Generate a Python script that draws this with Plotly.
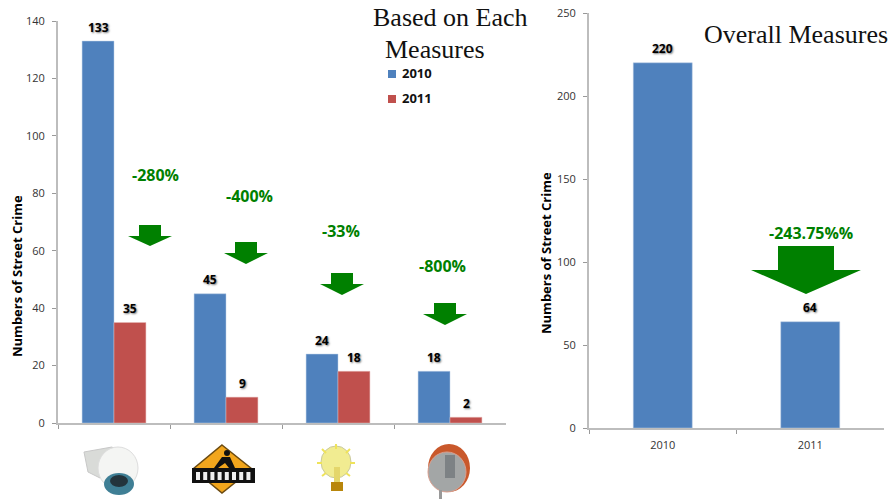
import plotly.graph_objects as go

W, H = 895, 502
BLUE, RED, GREEN = "#4F81BD", "#C0504D", "#008000"
measures = ["CCTV", "Pedestrian crossing", "Street lighting", "Convex mirror"]
values_2010 = [133, 45, 24, 18]
values_2011 = [35, 9, 18, 2]
overall_years = ["2010", "2011"]
overall_values = [220, 64]
left_ticks = [0, 20, 40, 60, 80, 100, 120, 140]
right_ticks = [0, 50, 100, 150, 200, 250]

def X(p): return p / W
def Y(p): return 1 - p / H

def path(points, close=True):
    s = "M " + " L ".join(f"{X(a):.5f},{Y(b):.5f}" for a, b in points)
    return s + (" Z" if close else "")

shapes, annos = [], []
def poly(points, fill, line=None, lw=0):
    shapes.append(dict(type="path", xref="paper", yref="paper", path=path(points), fillcolor=fill,
                       line=dict(color=line or fill, width=lw)))
def ell(cx, cy, rx, ry, fill, line=None, lw=0):
    shapes.append(dict(type="circle", xref="paper", yref="paper", x0=X(cx-rx), x1=X(cx+rx), y0=Y(cy+ry), y1=Y(cy-ry),
                       fillcolor=fill, line=dict(color=line or fill, width=lw)))
def rect(x0, y0, x1, y1, fill):
    poly([(x0, y0), (x1, y0), (x1, y1), (x0, y1)], fill)
def seg(x0, y0, x1, y1, color, w=2):
    shapes.append(dict(type="line", xref="paper", yref="paper", x0=X(x0), x1=X(x1), y0=Y(y0), y1=Y(y1),
                       line=dict(color=color, width=w)))
def arrow(cx, top, sh, hh, shaft, head):
    poly([(cx-shaft, top), (cx+shaft, top), (cx+shaft, top+sh), (cx+head, top+sh), (cx, top+sh+hh),
          (cx-head, top+sh), (cx-shaft, top+sh)], GREEN)
def text(x, y, t, size, color, family, bold=False, anchor="center", angle=0):
    font = dict(size=size, color=color, family=family, weight="bold" if bold else "normal")
    annos.append(dict(xref="paper", yref="paper", x=X(x), y=Y(y), text=t, showarrow=False, font=font,
                      xanchor=anchor, yanchor="middle", align="left", textangle=angle))

SANS = "Open Sans, Noto Sans, sans-serif"
SERIF = "Liberation Serif, serif"
for a in [(150, 225, 11, 10, 11, 22), (246, 242, 11, 11, 11, 22), (342, 273, 11, 11, 11, 22), (445, 303, 11, 11, 11, 22), (806, 246, 24, 24, 28, 55)]:
    arrow(*a)
for x, y, t in [(155, 175, "-280%"), (250, 196, "-400%"), (341, 231, "-33%"), (442, 266, "-800%"), (811, 233, "-243.75%%")]:
    text(x, y, t, 16, GREEN, SANS, True)
text(450, 18, "Based on Each", 26, "#111", SERIF)
text(383, 49, "Measures", 26, "#111", SERIF, anchor="left")
text(796, 35, "Overall Measures", 26, "#111", SERIF)

# Manual legend, sized as in the picture
rect(388, 70, 396, 78, BLUE)
rect(388, 95, 396, 103, RED)
text(400, 73, "2010", 13, "#111", SANS, True, anchor="left")
text(400, 98, "2011", 13, "#111", SANS, True, anchor="left")

# Axis titles
text(17, 276, "Numbers of Street Crime", 13, "#000", SANS, True, angle=-90)
text(546, 253, "Numbers of Street Crime", 13, "#000", SANS, True, angle=-90)

# Camera icon
poly([(84, 452), (112, 447), (122, 455), (102, 470), (100, 478), (88, 472)], "#D9DBD8", "#C8C8C8", 1)
ell(118, 468, 20, 21, "#F4F5F3", "#DDDDDD", 1)
ell(119, 484, 15, 11, "#3F7F95")
ell(119, 481, 9, 6, "#23343C")
# Pedestrian sign icon
poly([(222, 445), (252, 469), (222, 493), (193, 469)], "#F2A61D", "#6B4A10", 1.5)
rect(192, 468, 255, 483, "#111111")
for i in range(8):
    rect(196 + i * 7.2, 472, 200 + i * 7.2, 480, "#EFEFEF")
ell(227, 453, 3, 3, "#111111")
poly([(222, 457), (230, 457), (235, 468), (229, 468), (225, 463), (218, 468), (214, 468)], "#111111")
# Bulb icon
ell(336, 462, 15, 16, "#F1EC91", "#C9C9A0", 1)
rect(331, 482, 343, 491, "#B8860B")
rect(334, 467, 340, 482, "#E4D66B")
for a in [(336, 444, 336, 449), (322, 449, 326, 453), (350, 449, 346, 453), (317, 463, 322, 463), (355, 463, 350, 463), (322, 476, 326, 473), (350, 476, 346, 473)]:
    seg(*a, "#EFE35A", 2)
# Mirror icon
ell(449, 468, 21, 24, "#C9582B")
ell(447, 472, 19, 20, "#A3A6A6", "#D8A090", 1)
rect(445, 455, 455, 478, "#7D8285")
rect(439, 490, 442, 499, "#999999")

label_font = dict(size=12, color="#000", family=SANS, weight="bold", shadow="1px 1px 2px #777")
LABEL_GAP = 14
for i, v in enumerate(values_2010):
    annos.append(dict(xref="x", yref="y", x=i, y=v, text=str(v), showarrow=False, font=label_font, xshift=-16, yshift=LABEL_GAP, yanchor="middle"))
for i, v in enumerate(values_2011):
    annos.append(dict(xref="x", yref="y", x=i, y=v, text=str(v), showarrow=False, font=label_font, xshift=16, yshift=LABEL_GAP, yanchor="middle"))
for i, v in enumerate(overall_values):
    annos.append(dict(xref="x2", yref="y2", x=i, y=v, text=str(v), showarrow=False, font=label_font, yshift=LABEL_GAP, yanchor="middle"))

axis_line = dict(showline=True, linecolor="#BDBDBD", linewidth=2, ticks="outside", ticklen=4, automargin=False,
                 tickcolor="#999999", showgrid=False, zeroline=False, tickfont=dict(size=11, color="#333", family=SANS))

fig = go.Figure()
fig.add_bar(x=measures, y=values_2010, name="2010", marker=dict(color=BLUE, line=dict(color="#B9CDE5", width=.5)))
fig.add_bar(x=measures, y=values_2011, name="2011", marker=dict(color=RED, line=dict(color="#E6B8B7", width=.5)))
fig.add_bar(x=overall_years, y=overall_values, xaxis="x2", yaxis="y2", width=0.4,
            marker=dict(color=BLUE, line=dict(color="#B9CDE5", width=.5)))

fig.update_layout(
    width=W, height=H, margin=dict(l=0, r=0, t=0, b=0, autoexpand=False), paper_bgcolor="white", plot_bgcolor="white",
    barmode="group", bargap=0.43, bargroupgap=0, shapes=shapes, annotations=annos, showlegend=False,
    xaxis=dict(domain=[X(58), X(506)], anchor="y", tickson="boundaries", showticklabels=False, type="category", **axis_line),
    yaxis=dict(domain=[Y(423), Y(21)], range=[0, 140], tickvals=left_ticks, ticklabelstandoff=5, **axis_line),
    xaxis2=dict(domain=[X(589), X(884)], anchor="y2", tickson="boundaries", type="category", range=[-0.5, 1.5], tickangle=0, ticklabelstandoff=6, **axis_line),
    yaxis2=dict(domain=[Y(428), Y(13)], anchor="x2", range=[0, 250], tickvals=right_ticks, ticklabelstandoff=5, **axis_line),
    font=dict(family=SANS),
)
fig.write_html("out.html", config=dict(displayModeBar=False), post_script="document.body.style.margin='0';")
